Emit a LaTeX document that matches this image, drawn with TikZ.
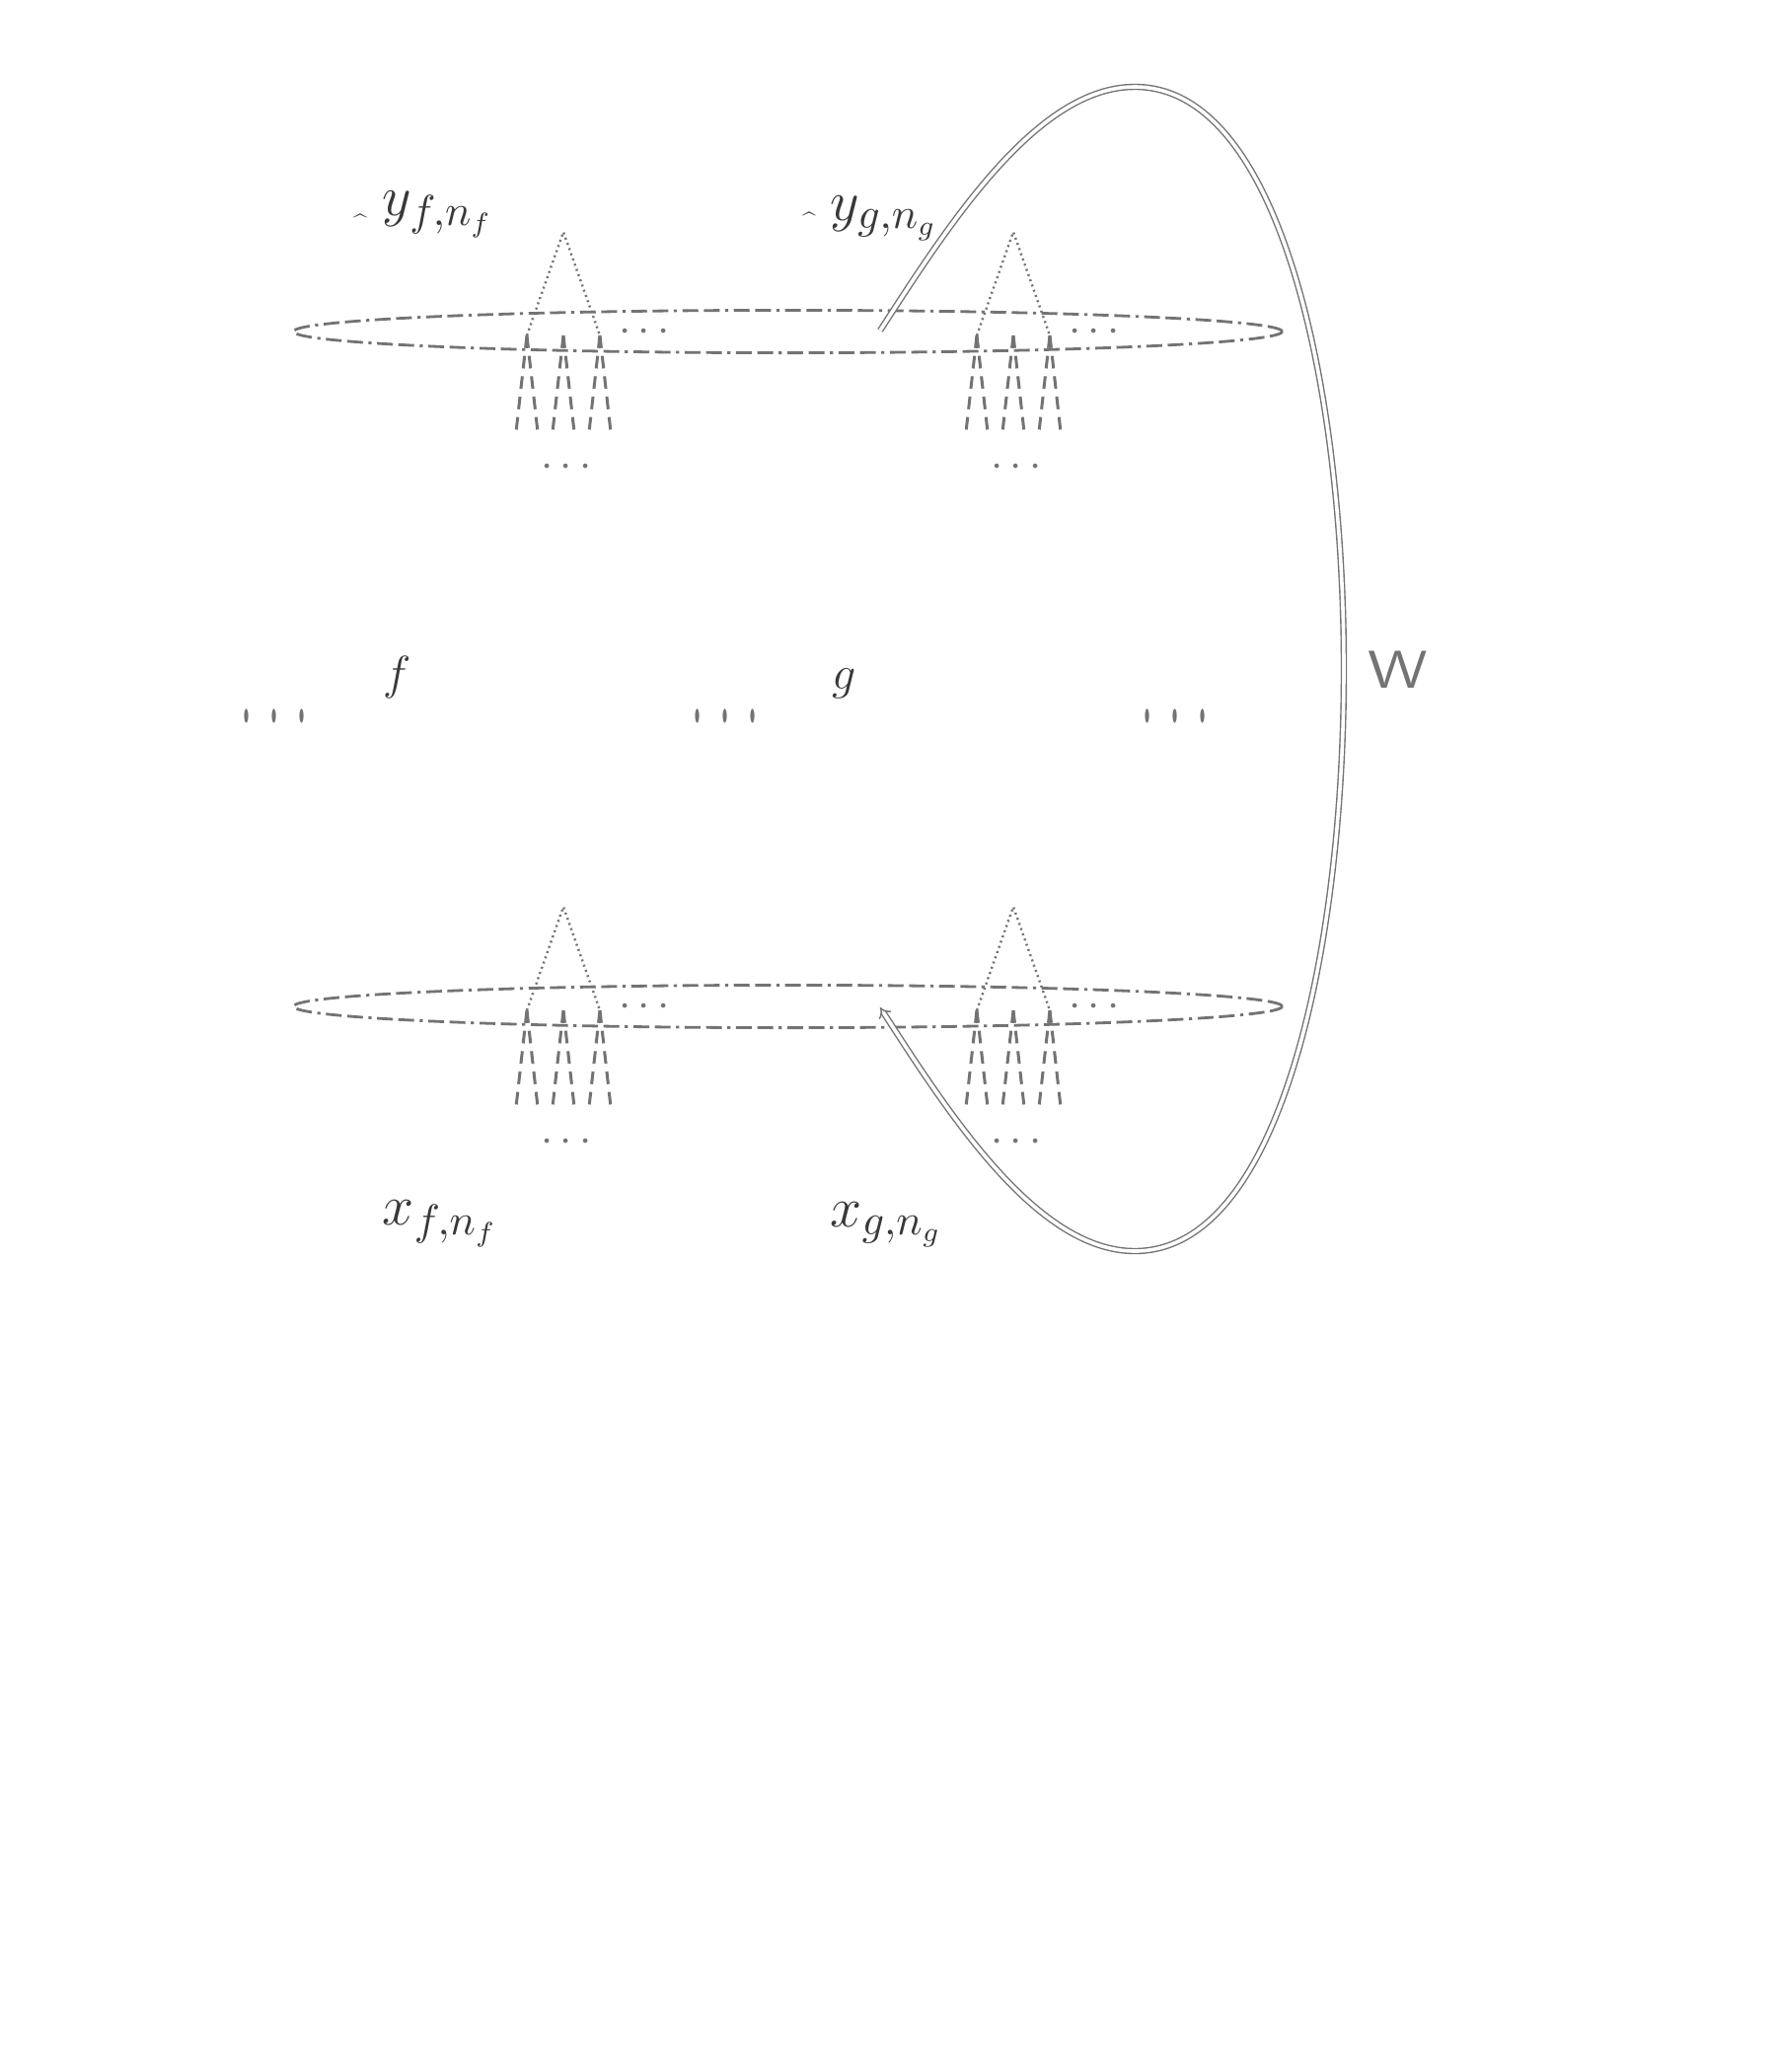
\documentclass[tikz,border=0pt]{standalone}
\usetikzlibrary{arrows.meta,shapes.geometric}
\definecolor{linegray}{gray}{0.45}
\definecolor{textgray}{gray}{0.22}
\newcommand\lblfont{\fontsize{15}{18}\selectfont}
\newcommand\fgfont{\fontsize{12.5}{15}\selectfont}
\newcommand\tallDot{\scalebox{0.4}[1.35]{\fontsize{27}{27}\selectfont$\cdot$}}
\newcommand\tallDots{\tallDot\hspace{4.2pt}\tallDot\hspace{4.2pt}\tallDot}
\begin{document}
\begin{tikzpicture}[x=0.25pt,y=-0.25pt,
  ring/.style={ellipse, draw=linegray, line width=0.7pt,
    dash pattern=on 4pt off 1.4pt on 4pt off 1.4pt on 0.8pt off 1.4pt,
    minimum width=250.5pt, minimum height=10.8pt, inner sep=0pt},
  fanedge/.style={draw=linegray, line width=0.6pt, dash pattern=on 0.5pt off 0.9pt},
  fanline/.style={draw=linegray, line width=0.75pt, dash pattern=on 3.2pt off 2pt},
  wire/.style={draw=linegray, line width=0.35pt, double=white, double distance=0.9pt},
  lbl/.style={text=textgray, font=\lblfont, inner sep=0pt},
  fglbl/.style={text=textgray, font=\fgfont, inner sep=0pt},
  caret/.style={text=textgray, font=\fontsize{6}{6}\selectfont, inner sep=0pt, anchor=north},
  sdots/.style={text=linegray, font=\fontsize{10.5}{11}\selectfont, inner sep=0pt},
  mdots/.style={text=linegray, inner sep=0pt}
]
\useasboundingbox (0,0) rectangle (1800,2100);

% the two rings
\node[ring] (topring) at (798.5,336) {};
\node[ring] (botring) at (798.5,1020) {};

% fans
\foreach \cx/\nm in {571/f,1027/g}{
  \foreach \dy/\rw in {0/t,684/b}{
    \coordinate (\nm\rw A) at (\cx,235+\dy);
    \foreach \k/\o in {L/-37,M/0,R/37}{
      \coordinate (\nm\rw\k) at (\cx+\o,340+\dy);
      \coordinate (\nm\rw\k a) at (\cx+\o-11,438+\dy);
      \coordinate (\nm\rw\k b) at (\cx+\o+11,438+\dy);
      \draw[fanline] (\nm\rw\k) -- (\nm\rw\k a);
      \draw[fanline] (\nm\rw\k) -- (\nm\rw\k b);
    }
    \draw[fanedge] (\nm\rw L) -- (\nm\rw A) -- (\nm\rw R);
    \node[sdots] (\nm\rw dots) at (\cx+3,474+\dy) {$\cdots$};
  }
}

% dots inside rings
\node[sdots] (tdl) at (653,337) {$\cdots$};
\node[sdots] (tdr) at (1109,337) {$\cdots$};
\node[sdots] (bdl) at (653,1021) {$\cdots$};
\node[sdots] (bdr) at (1109,1021) {$\cdots$};

% middle row
\node[fglbl, anchor=base] (flab) at (403,698) {$f$};
\node[fglbl, anchor=base] (glab) at (856,698) {$g$};
\node[mdots] (md1) at (278,730) {\tallDots};
\node[mdots] (md2) at (735,730) {\tallDots};
\node[mdots] (md3) at (1191,730) {\tallDots};
\node[text=black!55, inner sep=0pt, anchor=base, font=\fontsize{13.5}{16}\selectfont\sffamily] (wlab) at (1417,697) {\scalebox{1.22}[1]{W}};

% labels
\node[caret] (cf) at (365,216) {\^{}};
\node[lbl, anchor=base west] (yf) at (387,218) {$y_{f,n_f}$};
\node[caret] (cg) at (820,214) {\^{}};
\node[lbl, anchor=base west] (yg) at (841,223) {$y_{g,n_g}$};
\node[lbl, anchor=base west] (xf) at (387,1241) {$x_{f,n_f}$};
\node[lbl, anchor=base west] (xg) at (841,1243) {$x_{g,n_g}$};

% big connector
\coordinate (ws) at (892,335);
\coordinate (we) at (892,1021);
\draw[wire, -{Implies}] (ws) .. controls (960,230) and (1050,88) .. (1150,88)
  .. controls (1300,88) and (1362,400) .. (1362,678)
  .. controls (1362,956) and (1300,1268) .. (1150,1268)
  .. controls (1050,1268) and (960,1126) .. (we);
\end{tikzpicture}
\end{document}
